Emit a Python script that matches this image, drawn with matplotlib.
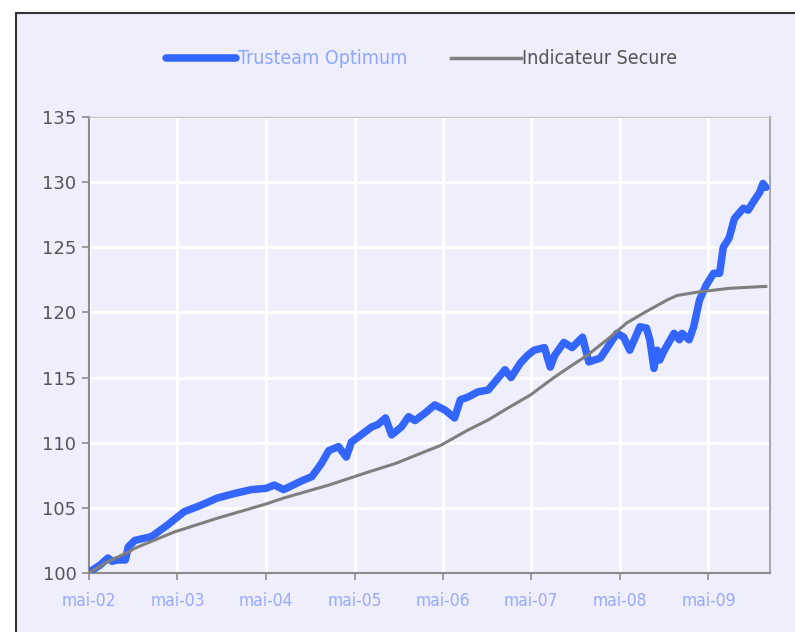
import matplotlib
matplotlib.use("Agg")
import matplotlib.pyplot as plt
import pandas as pd
from matplotlib.patches import Rectangle
from matplotlib.lines import Line2D

# ---- data ----
optimum_dates = [
    "2002-05-01", "2002-05-13", "2002-06-15", "2002-07-18", "2002-08-04", "2002-08-28",
    "2002-09-28", "2002-10-10", "2002-11-06", "2003-01-15", "2003-03-22", "2003-05-28",
    "2003-08-06", "2003-10-12", "2003-12-22", "2004-03-01", "2004-05-01", "2004-06-04",
    "2004-07-12", "2004-09-28", "2004-11-06", "2004-12-15", "2005-01-15", "2005-02-24",
    "2005-03-28", "2005-04-18", "2005-05-28", "2005-07-10", "2005-08-06", "2005-09-06",
    "2005-10-01", "2005-11-10", "2005-12-10", "2006-01-06", "2006-02-18", "2006-03-28",
    "2006-05-10", "2006-06-18", "2006-07-12", "2006-08-12", "2006-09-22", "2006-11-04",
    "2007-01-12", "2007-02-06", "2007-03-16", "2007-04-15", "2007-05-12", "2007-06-24",
    "2007-07-18", "2007-08-05", "2007-09-12", "2007-10-16", "2007-11-28", "2007-12-24",
    "2008-02-10", "2008-03-22", "2008-04-18", "2008-05-16", "2008-06-10", "2008-07-22",
    "2008-08-18", "2008-09-01", "2008-09-18", "2008-10-01", "2008-10-12", "2008-10-28",
    "2008-12-10", "2009-01-01", "2009-01-12", "2009-02-10", "2009-03-01", "2009-03-25",
    "2009-04-22", "2009-05-22", "2009-06-16", "2009-07-01", "2009-07-25", "2009-08-16",
    "2009-09-22", "2009-10-12", "2009-11-06", "2009-11-28", "2009-12-12", "2009-12-24",
]
optimum_values = [
    100.0, 100.2, 100.6, 101.15, 100.9, 101.0,
    101.0, 102.0, 102.5, 102.8, 103.7, 104.7,
    105.2, 105.75, 106.1, 106.4, 106.5, 106.75,
    106.4, 107.1, 107.4, 108.4, 109.4, 109.7,
    108.9, 110.05, 110.6, 111.2, 111.4, 111.9,
    110.6, 111.2, 112.0, 111.7, 112.3, 112.9,
    112.5, 111.9, 113.3, 113.5, 113.9, 114.05,
    115.6, 115.0, 116.1, 116.7, 117.1, 117.3,
    115.8, 116.7, 117.7, 117.3, 118.1, 116.2,
    116.5, 117.65, 118.4, 118.1, 117.1, 118.9,
    118.8, 117.9, 115.7, 117.1, 116.35, 117.0,
    118.4, 117.9, 118.4, 117.9, 118.9, 120.95,
    122.1, 123.0, 123.0, 125.0, 125.7, 127.2,
    128.0, 127.85, 128.6, 129.2, 129.9, 129.6,
]

secure_dates = [
    "2002-05-01", "2002-07-10", "2002-10-10", "2002-11-06", "2003-04-18", "2003-10-12",
    "2004-05-01", "2004-07-12", "2005-01-15", "2005-06-27", "2005-10-16", "2006-04-22",
    "2006-08-12", "2006-11-03", "2007-01-24", "2007-04-27", "2007-07-18", "2007-09-26",
    "2007-12-17", "2008-03-08", "2008-05-29", "2008-08-20", "2008-11-11", "2008-12-22",
    "2009-03-13", "2009-07-25", "2009-12-24",
]
secure_values = [
    100.0, 100.8, 101.6, 101.9, 103.15, 104.2,
    105.3, 105.75, 106.75, 107.75, 108.4, 109.8,
    110.97, 111.74, 112.66, 113.66, 114.8, 115.7,
    116.7, 117.9, 119.2, 120.1, 120.95, 121.3,
    121.55, 121.85, 122.0,
]

series_labels = ["Trusteam Optimum", "Indicateur Secure"]
x_tick_dates = ["2002-05-01", "2003-05-01", "2004-05-01", "2005-05-01",
                "2006-05-01", "2007-05-01", "2008-05-01", "2009-05-01"]
x_tick_labels = ["mai-02", "mai-03", "mai-04", "mai-05", "mai-06", "mai-07", "mai-08", "mai-09"]
y_ticks = [100, 105, 110, 115, 120, 125, 130, 135]

# ---- style ----
BG = "#EEEEFC"
BLUE = "#3366FF"
GRAY = "#7F7F7F"
FONT = "DejaVu Sans"

fig = plt.figure(figsize=(7.95, 6.32), dpi=100)
fig.patch.set_facecolor("white")
# framed panel
fig.patches.append(Rectangle((15.5 / 795, -0.01), 1.0, 1 - 12.5 / 632 + 0.01,
                             transform=fig.transFigure, facecolor=BG,
                             edgecolor="#333333", linewidth=1.5, zorder=-10))

ax = fig.add_axes([89 / 795, 1 - 573 / 632, (770 - 89) / 795, (573 - 117) / 632])
ax.set_zorder(1)
ax.set_facecolor(BG)

od = pd.to_datetime(optimum_dates)
sd = pd.to_datetime(secure_dates)
ax.plot(od, optimum_values, color=BLUE, lw=5.4, solid_capstyle="round",
        solid_joinstyle="round", zorder=3)
ax.plot(sd, secure_values, color=GRAY, lw=2.2, zorder=4,
        solid_joinstyle="round")

ax.set_xlim(pd.Timestamp("2002-05-01"), pd.Timestamp("2010-01-10"))
ax.set_ylim(100, 135)
ax.set_yticks(y_ticks)
ax.set_yticklabels([str(v) for v in y_ticks])
ax.set_xticks(pd.to_datetime(x_tick_dates))
ax.set_xticklabels(x_tick_labels)

ax.grid(True, color="white", lw=2.2, zorder=1)
ax.set_axisbelow(True)
for s in ["left", "bottom"]:
    ax.spines[s].set_color("#8C8C8C")
    ax.spines[s].set_linewidth(1.5)
ax.spines["right"].set_color("#A8A8B0")
ax.spines["right"].set_linewidth(1.5)
ax.spines["top"].set_color("#C8C8CC")
ax.spines["top"].set_linewidth(1.0)

ax.tick_params(axis="y", direction="out", length=5, width=1.2, color="#8C8C8C",
               labelsize=13, labelcolor="#555555", pad=4)
ax.tick_params(axis="x", direction="out", length=5, width=1.2, color="#8C8C8C",
               labelsize=12.5, labelcolor="#99AAFF", pad=9)
for lab in ax.get_yticklabels():
    lab.set_fontfamily(FONT)
for lab in ax.get_xticklabels():
    lab.set_fontfamily(FONT)
    lab.set_fontstretch("condensed")

handles = [Line2D([], [], color=BLUE, lw=5.4, solid_capstyle="round"),
           Line2D([], [], color=GRAY, lw=2.5)]
leg = fig.legend(handles, series_labels, loc="center", bbox_to_anchor=(422 / 795, 1 - 59 / 632),
                 ncol=2, frameon=False, handlelength=3.6, handletextpad=0.1,
                 columnspacing=2.2, prop={"family": FONT, "size": 14, "stretch": "condensed"})
leg.get_texts()[0].set_color("#8FA8FF")
leg.get_texts()[1].set_color("#555555")

fig.savefig("out.png", dpi=100, facecolor=fig.get_facecolor())
